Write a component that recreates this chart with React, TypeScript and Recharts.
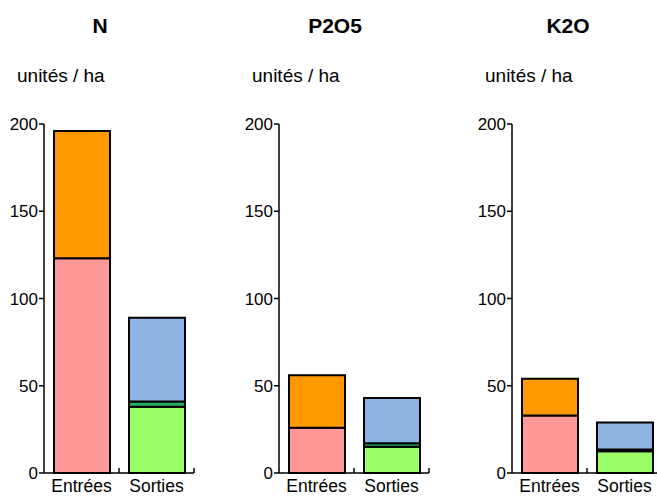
import React from 'react';
import { BarChart, Bar, XAxis, YAxis } from 'recharts';

// bilan des éléments, unités / ha
const nutrients = ['N', 'P2O5', 'K2O'];
const categories = ['Entrées', 'Sorties'];
const yTicks = [0, 50, 100, 150, 200];

// entrées
const pinkIn = [123, 26, 33];
const orangeIn = [73, 30, 21];
// sorties
const greenOut = [38, 15, 12.5];
const darkGreenOut = [3, 2, 1];
const blueOut = [48, 26, 15.5];

const FONT = '"Liberation Sans", Arial, sans-serif';
const panelLeft = [0, 235, 468];

const buildData = (i: number) => [
  { cat: categories[0], pink: pinkIn[i], orange: orangeIn[i], green: 0, dark: 0, blue: 0 },
  { cat: categories[1], pink: 0, orange: 0, green: greenOut[i], dark: darkGreenOut[i], blue: blueOut[i] },
];

const CatTick = (props: any) => {
  const { x, y, payload } = props;
  const half = payload && payload.offset ? payload.offset : 37.5;
  return (
    <g>
      <line x1={x + half} x2={x + half} y1={y} y2={y - 5} stroke="#000" strokeWidth={1.5} />
      <text x={x} y={y + 19} textAnchor="middle" fontSize={17.5} fill="#000" fontFamily={FONT}>
        {payload.value}
      </text>
    </g>
  );
};

const Panel = ({ index }: { index: number }) => {
  const data = buildData(index);
  return (
    <div style={{ position: 'absolute', left: panelLeft[index], top: 0, width: 200, height: 496 }}>
      <div
        style={{
          position: 'absolute', top: 13, left: 0, width: 200, textAlign: 'center',
          fontSize: 21, fontWeight: 'bold', fontFamily: FONT, lineHeight: '26px',
        }}
      >
        {nutrients[index]}
      </div>
      <div style={{ position: 'absolute', top: 63, left: 17, fontSize: 19, fontFamily: FONT, lineHeight: '26px' }}>
        unités / ha
      </div>
      <BarChart
        width={200}
        height={496}
        data={data}
        margin={{ top: 124, right: 6, bottom: 0, left: 0 }}
        barSize={56}
      >
        <XAxis
          dataKey="cat"
          height={23}
          axisLine={{ stroke: '#000', strokeWidth: 1.5 }}
          tickLine={false}
          tickSize={0}
          tickMargin={0}
          tick={<CatTick />}
          interval={0}
        />
        <YAxis
          domain={[0, 200]}
          ticks={yTicks}
          width={44}
          axisLine={{ stroke: '#000', strokeWidth: 1.5 }}
          tickLine={{ stroke: '#000', strokeWidth: 1.5 }}
          tickSize={5}
          tickMargin={1}
          tick={{ fontSize: 17, fill: '#000', fontFamily: FONT }}
        />
        <Bar dataKey="pink" stackId="a" fill="#FF9999" stroke="#000" strokeWidth={2} isAnimationActive={false} />
        <Bar dataKey="orange" stackId="a" fill="#FF9900" stroke="#000" strokeWidth={2} isAnimationActive={false} />
        <Bar dataKey="green" stackId="a" fill="#99FF66" stroke="#000" strokeWidth={2} isAnimationActive={false} />
        <Bar dataKey="dark" stackId="a" fill="#22B060" stroke="#000" strokeWidth={2} isAnimationActive={false} />
        <Bar dataKey="blue" stackId="a" fill="#8DB3E2" stroke="#000" strokeWidth={2} isAnimationActive={false} />
      </BarChart>
    </div>
  );
}

export default function App() {
  return (
    <div
      style={{
        position: 'absolute', left: 0, top: 0, width: 657, height: 496,
        overflow: 'hidden', background: '#fff',
      }}
    >
      {nutrients.map((n, i) => (
        <Panel key={n} index={i} />
      ))}
    </div>
  );
}
